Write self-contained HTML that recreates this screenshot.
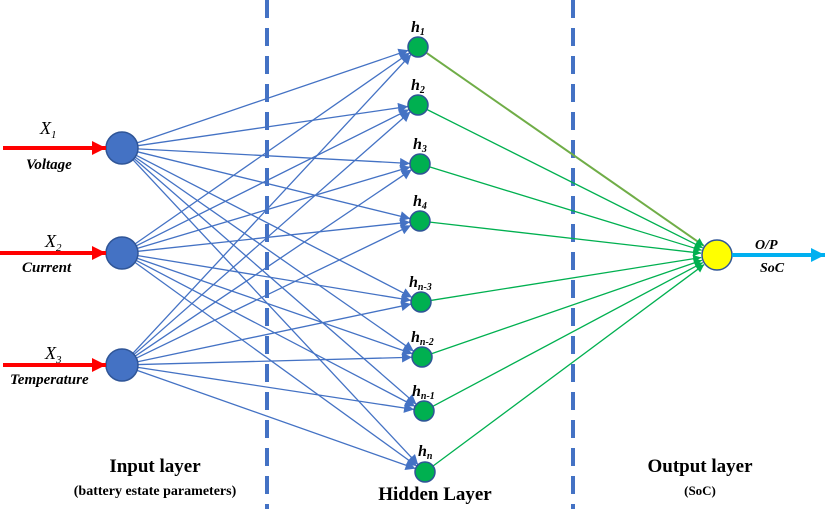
<!DOCTYPE html>
<html><head><meta charset="utf-8"><style>
body{margin:0;background:#fff;}
svg{display:block;font-family:"Liberation Serif",serif;}
</style></head><body>
<svg id="s" width="825" height="509" viewBox="0 0 825 509" xmlns="http://www.w3.org/2000/svg">
<defs>
<marker id="ab" viewBox="0 0 10 10" refX="10" refY="5" markerUnits="userSpaceOnUse" markerWidth="12" markerHeight="10" orient="auto"><path d="M0,0L10,5L0,10z" fill="#4472c4"/></marker>
<marker id="ag" viewBox="0 0 10 10" refX="10" refY="5" markerUnits="userSpaceOnUse" markerWidth="10" markerHeight="8" orient="auto"><path d="M0,0L10,5L0,10z" fill="#00b050"/></marker>
<marker id="ar" viewBox="0 0 10 10" refX="10" refY="5" markerUnits="userSpaceOnUse" markerWidth="16" markerHeight="14" orient="auto"><path d="M0,0L10,5L0,10z" fill="#ff0000"/></marker>
<marker id="ac" viewBox="0 0 10 10" refX="10" refY="5" markerUnits="userSpaceOnUse" markerWidth="16" markerHeight="14" orient="auto"><path d="M0,0L10,5L0,10z" fill="#00b0f0"/></marker>
</defs>
<line x1="267" y1="0" x2="267" y2="509" stroke="#4472c4" stroke-width="4" stroke-dasharray="18,10"/>
<line x1="573" y1="0" x2="573" y2="509" stroke="#4472c4" stroke-width="4" stroke-dasharray="18,10"/>
<g id="lines"></g>
<g id="nodes"></g>
<line x1="3" y1="148" x2="106" y2="148" stroke="#f00" stroke-width="4" marker-end="url(#ar)"/>
<line x1="0" y1="253" x2="106" y2="253" stroke="#f00" stroke-width="4" marker-end="url(#ar)"/>
<line x1="3" y1="365" x2="106" y2="365" stroke="#f00" stroke-width="4" marker-end="url(#ar)"/>
<line x1="732" y1="255" x2="825" y2="255" stroke="#00b0f0" stroke-width="4" marker-end="url(#ac)"/>
<g font-style="italic" font-size="18" fill="#000">
<text x="40" y="134">X<tspan font-size="11" dy="4">1</tspan></text>
<text x="26" y="169" font-weight="bold" font-size="15">Voltage</text>
<text x="45" y="247">X<tspan font-size="11" dy="4">2</tspan></text>
<text x="22" y="272" font-weight="bold" font-size="15">Current</text>
<text x="45" y="359">X<tspan font-size="11" dy="4">3</tspan></text>
<text x="10" y="384" font-weight="bold" font-size="15">Temperature</text>
</g>
<g font-style="italic" font-weight="bold" font-size="16" fill="#000">
<text x="411" y="32">h<tspan font-size="10" dy="3">1</tspan></text>
<text x="411" y="90">h<tspan font-size="10" dy="3">2</tspan></text>
<text x="413" y="149">h<tspan font-size="10" dy="3">3</tspan></text>
<text x="413" y="206">h<tspan font-size="10" dy="3">4</tspan></text>
<text x="409" y="287">h<tspan font-size="10" dy="3">n-3</tspan></text>
<text x="411" y="342">h<tspan font-size="10" dy="3">n-2</tspan></text>
<text x="412" y="396">h<tspan font-size="10" dy="3">n-1</tspan></text>
<text x="418" y="456">h<tspan font-size="10" dy="3">n</tspan></text>
<text x="755" y="249" font-size="14">O/P</text>
<text x="760" y="272" font-size="14">SoC</text>
</g>
<g font-weight="bold" fill="#000" text-anchor="middle">
<text x="155" y="472" font-size="19">Input layer</text>
<text x="155" y="495" font-size="14">(battery estate parameters)</text>
<text x="435" y="500" font-size="19">Hidden Layer</text>
<text x="700" y="472" font-size="19">Output layer</text>
<text x="700" y="495" font-size="13">(SoC)</text>
</g>
</svg>
<script>
var NS="http://www.w3.org/2000/svg";
var I=[[122,148],[122,253],[122,365]];
var H=[[418,47],[418,105],[420,164],[420,221],[421,302],[422,357],[424,411],[425,472]];
var O=[717,255];
var L=document.getElementById("lines"),N=document.getElementById("nodes");
function mk(t,a,p){var e=document.createElementNS(NS,t);for(var k in a)e.setAttribute(k,a[k]);p.appendChild(e);return e;}
I.forEach(function(a){H.forEach(function(h){var dx=h[0]-a[0],dy=h[1]-a[1],d=Math.hypot(dx,dy);
mk("line",{x1:a[0]+dx/d*16,y1:a[1]+dy/d*16,x2:h[0]-dx/d*10,y2:h[1]-dy/d*10,stroke:"#4472c4","stroke-width":1.3,"marker-end":"url(#ab)"},L);});});
H.forEach(function(h,i){var dx=O[0]-h[0],dy=O[1]-h[1],d=Math.hypot(dx,dy);
mk("line",{x1:h[0]+dx/d*10,y1:h[1]+dy/d*10,x2:O[0]-dx/d*16,y2:O[1]-dy/d*16,stroke:i==0?"#70ad47":"#00b050","stroke-width":i==0?2:1.3,"marker-end":"url(#ag)"},L);});
I.forEach(function(a){mk("circle",{cx:a[0],cy:a[1],r:16,fill:"#4472c4",stroke:"#2f5597","stroke-width":1.5},N);});
H.forEach(function(h){mk("circle",{cx:h[0],cy:h[1],r:10,fill:"#00b050",stroke:"#2f5597","stroke-width":1.5},N);});
mk("circle",{cx:O[0],cy:O[1],r:15,fill:"#ffff00",stroke:"#2f5597","stroke-width":1.5},N);
</script>
</body></html>
